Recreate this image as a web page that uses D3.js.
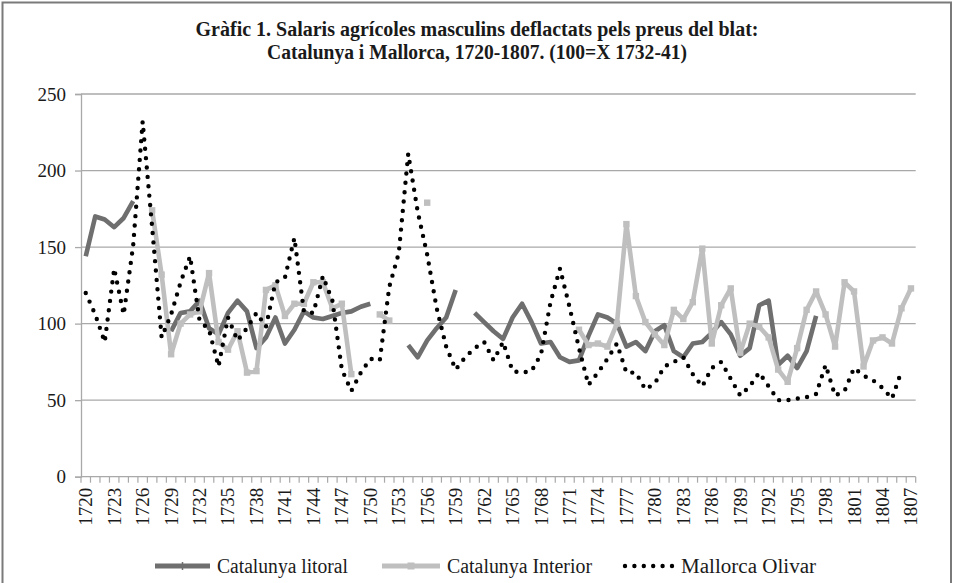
<!DOCTYPE html>
<html><head><meta charset="utf-8">
<script src="https://cdn.jsdelivr.net/npm/d3@7"></script>
<style>
body{margin:0;background:#fff}
svg{display:block}
text{font-family:"Liberation Serif","Times New Roman",serif;fill:#1a1a1a}
</style>
</head><body>
<svg id="c" width="954" height="583"></svg>
<script>
// ---- data ----
const years = d3.range(1720, 1808);
const tickYears = years.filter((y, i) => i % 3 === 0);
const yTicks = [0, 50, 100, 150, 200, 250];
const titleLines = ["Gràfic 1. Salaris agrícoles masculins deflactats pels preus del blat:",
                    "Catalunya i Mallorca, 1720-1807. (100=X 1732-41)"];
const seriesNames = ["Catalunya litoral", "Catalunya Interior", "Mallorca Olivar"];

const litoral = [
 144,170,168,163,169,180,null,null,null,95,      // 1720-1729
 107,108,115,97,93,107,115,108,84,91,            // 1730-1739
 104,87,96,108,104,103,105,107,108,111,          // 1740-1749
 113,null,null,null,86,78,89,97,104,122,         // 1750-1759
 null,107,101,95,90,104,113,101,87,88,           // 1760-1769
 78,75,76,92,106,104,100,85,88,82,               // 1770-1779
 95,99,82,78,87,88,94,101,93,79,                 // 1780-1789
 84,112,115,73,79,71,82,105,null,null,           // 1790-1799
 null,null,null,null,null,null,null,null         // 1800-1807
];
const interior = [
 null,null,null,null,null,null,null,174,132,80,  // 1720-1729
 100,106,108,133,88,83,95,68,69,122,             // 1730-1739
 125,105,113,113,127,127,110,113,67,null,        // 1740-1749
 null,106,102,null,null,null,179,null,null,null, // 1750-1759
 null,null,null,null,null,null,null,null,null,null, // 1760-1769
 null,null,96,86,87,85,100,165,118,101,          // 1770-1779
 93,86,109,103,114,149,87,112,123,81,            // 1780-1789
 100,98,91,70,62,84,109,121,106,85,              // 1790-1799
 127,121,72,89,91,87,110,123                     // 1800-1807
];
const mallorca = [
 120,106,88,136,106,151,232,163,91,106,          // 1720-1729
 127,144,102,96,72,104,89,97,107,98,             // 1730-1739
 127,130,156,108,107,131,115,70,56,68,           // 1740-1749
 77,76,124,146,211,173,145,110,85,70,            // 1750-1759
 78,84,88,76,88,69,68,69,80,114,                 // 1760-1769
 136,111,84,60,68,77,87,68,68,57,                // 1770-1779
 61,72,75,78,67,59,71,75,64,53,                  // 1780-1789
 59,68,59,50,50,51,52,54,73,53,                  // 1790-1799
 56,71,66,63,58,51,69,null                       // 1800-1807
];

// ---- layout ----
const svg = d3.select("#c");
const L = 81, R = 915.7, T = 94, B = 476.7;
const gridCol = "#a9a9a9";
const darkCol = "#6f6f6f", lightCol = "#bfbfbf", dotCol = "#000";

const x = d3.scaleBand().domain(years).range([L, R]).padding(0);
const xc = yr => x(yr) + x.bandwidth() / 2;
const y = d3.scaleLinear().domain([0, 250]).range([B, T]);

// frame
svg.append("path").attr("d", `M2.5,600 V2.5 H951 V600`)
  .attr("fill", "none").attr("stroke", "#7a7a7a").attr("stroke-width", 2);

// fit helper
function fit(sel, w) {
  const n = sel.node();
  const len = n.getComputedTextLength();
  if (Math.abs(len - w) > 1) sel.attr("textLength", w).attr("lengthAdjust", "spacingAndGlyphs");
}

// title
const tw = [562, 420];
titleLines.forEach((t, i) => {
  const s = svg.append("text").attr("x", 477).attr("y", 36 + i * 22.5)
    .attr("text-anchor", "middle").attr("font-weight", "bold").attr("font-size", 20).text(t);
  fit(s, tw[i]);
});

// gridlines
svg.append("g").selectAll("line").data(yTicks.filter(d => d > 0)).join("line")
  .attr("x1", L).attr("x2", R).attr("y1", d => y(d)).attr("y2", d => y(d))
  .attr("stroke", gridCol).attr("stroke-width", 1.3);

// y axis
const ya = svg.append("g").attr("transform", `translate(${L},0)`)
  .call(d3.axisLeft(y).tickValues(yTicks).tickSize(6).tickPadding(9).tickFormat(d3.format("d")));
ya.select(".domain").attr("stroke", gridCol).attr("stroke-width", 1.3);
ya.selectAll(".tick line").attr("stroke", gridCol).attr("stroke-width", 1.3);
ya.selectAll(".tick text").attr("font-size", 19).attr("font-family", '"Liberation Serif",serif').attr("fill", "#1a1a1a");

// x axis
svg.append("line").attr("x1", L).attr("x2", R).attr("y1", B).attr("y2", B)
  .attr("stroke", gridCol).attr("stroke-width", 1.3);
const bounds = years.map(d => x(d)).concat([x(years[years.length - 1]) + x.bandwidth()]);
svg.append("g").selectAll("line").data(bounds).join("line")
  .attr("x1", d => d).attr("x2", d => d).attr("y1", B).attr("y2", B + 6)
  .attr("stroke", gridCol).attr("stroke-width", 1.2);
svg.append("g").selectAll("text").data(tickYears).join("text")
  .attr("transform", d => `translate(${xc(d)},${B + 11}) rotate(-90)`)
  .attr("text-anchor", "end").attr("dy", "0.34em").attr("font-size", 19).text(d => d);

// lines
const line = d3.line().defined(d => d[1] != null).x(d => xc(d[0])).y(d => y(d[1]));
const pairs = arr => years.map((yr, i) => [yr, arr[i]]);

svg.append("path").datum(pairs(litoral)).attr("d", line)
  .attr("fill", "none").attr("stroke", darkCol).attr("stroke-width", 4.6).attr("stroke-linejoin", "round");

svg.append("path").datum(pairs(interior)).attr("d", line)
  .attr("fill", "none").attr("stroke", lightCol).attr("stroke-width", 4.6).attr("stroke-linejoin", "round");
svg.append("g").selectAll("rect").data(pairs(interior).filter(d => d[1] != null)).join("rect")
  .attr("x", d => xc(d[0]) - 3.2).attr("y", d => y(d[1]) - 3.2).attr("width", 6.4).attr("height", 6.4)
  .attr("fill", lightCol);

svg.append("path").datum(pairs(mallorca)).attr("d", line)
  .attr("fill", "none").attr("stroke", dotCol).attr("stroke-width", 4.4)
  .attr("stroke-linecap", "round").attr("stroke-dasharray", "0 9.4");

// legend
const lg = svg.append("g");
const ly = 566;
lg.append("line").attr("x1", 155).attr("x2", 210).attr("y1", ly).attr("y2", ly)
  .attr("stroke", darkCol).attr("stroke-width", 5);
lg.append("line").attr("x1", 182.5).attr("x2", 182.5).attr("y1", ly - 4).attr("y2", ly + 4)
  .attr("stroke", darkCol).attr("stroke-width", 1.5);
lg.append("line").attr("x1", 382).attr("x2", 440).attr("y1", ly).attr("y2", ly)
  .attr("stroke", lightCol).attr("stroke-width", 5);
lg.append("rect").attr("x", 407.5).attr("y", ly - 3.5).attr("width", 7).attr("height", 7).attr("fill", lightCol);
lg.append("line").attr("x1", 625).attr("x2", 672).attr("y1", ly).attr("y2", ly)
  .attr("stroke", dotCol).attr("stroke-width", 4.4).attr("stroke-linecap", "round").attr("stroke-dasharray", "0 9.4");
const lx = [217, 447, 681], lw = [131, 145, 135];
seriesNames.forEach((n, i) => {
  const s = lg.append("text").attr("x", lx[i]).attr("y", ly + 7).attr("font-size", 20).text(n);
  fit(s, lw[i]);
});
</script>
</body></html>
